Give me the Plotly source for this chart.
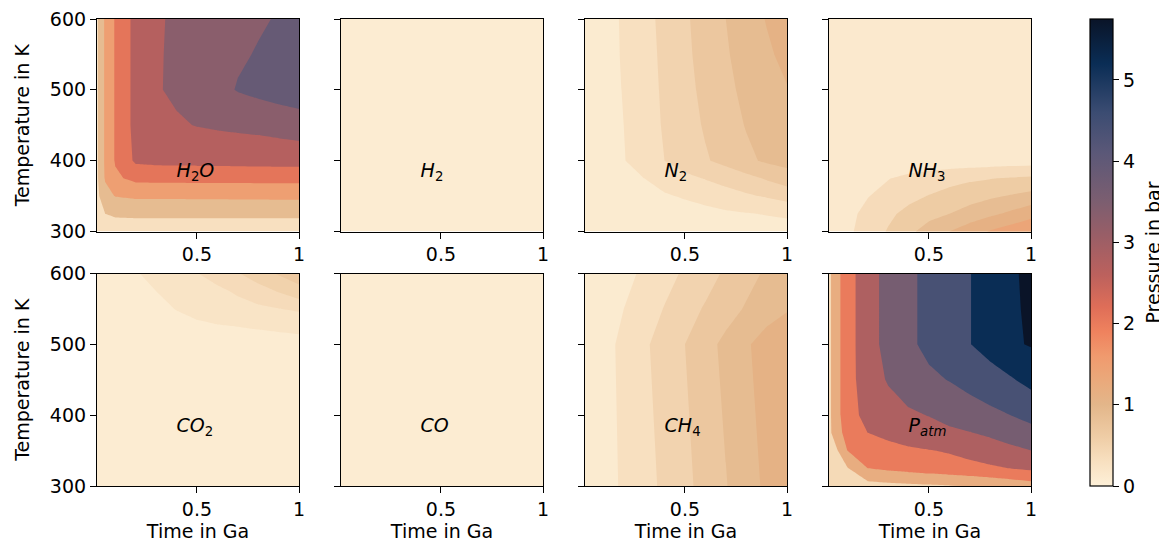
import plotly.graph_objects as go

# ---------------- data (pressure in bar) ----------------
t_Ga = [0.01, 0.05, 0.1, 0.2, 0.3, 0.4, 0.5, 0.6, 0.7, 0.8, 0.9, 1.0]
T_full = [300, 325, 350, 375, 400, 450, 500, 550, 600]
T_nh3 = [300, 325, 350, 375, 400, 500, 600]
T_co2 = [300, 450, 500, 525, 550, 575, 600]
T_ch4 = [300, 500, 550, 600]
t_flat = [0.01, 0.5, 1.0]
T_flat = [300, 450, 600]

p_H2O = [
    [0.15, 0.25, 0.30, 0.30, 0.30, 0.30, 0.30, 0.30, 0.30, 0.30, 0.30, 0.30],
    [0.35, 0.60, 0.68, 0.70, 0.70, 0.70, 0.70, 0.70, 0.70, 0.70, 0.70, 0.70],
    [0.45, 1.00, 1.22, 1.30, 1.30, 1.30, 1.31, 1.31, 1.32, 1.32, 1.33, 1.33],
    [0.50, 1.25, 1.70, 1.95, 1.96, 1.96, 1.97, 1.97, 1.97, 1.98, 1.98, 1.98],
    [0.50, 1.30, 1.85, 2.50, 2.55, 2.57, 2.58, 2.59, 2.60, 2.61, 2.62, 2.62],
    [0.50, 1.30, 1.86, 2.59, 2.80, 2.93, 3.02, 3.07, 3.11, 3.15, 3.22, 3.30],
    [0.50, 1.30, 1.86, 2.59, 2.95, 3.10, 3.26, 3.45, 3.63, 3.75, 3.86, 3.95],
    [0.50, 1.30, 1.86, 2.59, 2.93, 3.12, 3.28, 3.42, 3.54, 3.63, 3.72, 3.80],
    [0.50, 1.30, 1.86, 2.59, 2.92, 3.10, 3.24, 3.36, 3.45, 3.55, 3.63, 3.70],
]

p_H2 = [
    [0.00, 0.01, 0.01],
    [0.01, 0.02, 0.02],
    [0.01, 0.02, 0.03],
]

p_N2 = [
    [0.01, 0.02, 0.02, 0.03, 0.04, 0.05, 0.06, 0.07, 0.08, 0.09, 0.11, 0.12],
    [0.02, 0.03, 0.04, 0.06, 0.08, 0.10, 0.12, 0.14, 0.17, 0.19, 0.21, 0.23],
    [0.02, 0.04, 0.06, 0.10, 0.14, 0.18, 0.22, 0.27, 0.32, 0.37, 0.42, 0.48],
    [0.03, 0.05, 0.08, 0.14, 0.20, 0.28, 0.35, 0.41, 0.47, 0.54, 0.62, 0.70],
    [0.03, 0.06, 0.10, 0.19, 0.30, 0.40, 0.50, 0.58, 0.66, 0.76, 0.83, 0.87],
    [0.03, 0.07, 0.11, 0.20, 0.31, 0.42, 0.52, 0.62, 0.72, 0.81, 0.88, 0.93],
    [0.03, 0.07, 0.12, 0.21, 0.32, 0.43, 0.54, 0.65, 0.75, 0.85, 0.93, 0.99],
    [0.03, 0.07, 0.12, 0.22, 0.33, 0.44, 0.56, 0.67, 0.78, 0.88, 0.97, 1.05],
    [0.03, 0.07, 0.12, 0.225, 0.34, 0.45, 0.57, 0.69, 0.80, 0.91, 1.01, 1.12],
]

p_NH3 = [
    [0.05, 0.12, 0.20, 0.36, 0.52, 0.69, 0.86, 1.00, 1.14, 1.27, 1.37, 1.46],
    [0.04, 0.10, 0.18, 0.32, 0.45, 0.57, 0.67, 0.75, 0.85, 0.95, 1.05, 1.17],
    [0.03, 0.08, 0.14, 0.24, 0.33, 0.43, 0.51, 0.58, 0.65, 0.71, 0.77, 0.83],
    [0.02, 0.05, 0.09, 0.16, 0.24, 0.31, 0.37, 0.42, 0.46, 0.49, 0.52, 0.54],
    [0.01, 0.02, 0.03, 0.05, 0.07, 0.08, 0.09, 0.10, 0.11, 0.12, 0.13, 0.14],
    [0.00, 0.01, 0.01, 0.02, 0.03, 0.03, 0.04, 0.04, 0.05, 0.05, 0.06, 0.06],
    [0.00, 0.00, 0.01, 0.01, 0.01, 0.02, 0.02, 0.02, 0.02, 0.03, 0.03, 0.03],
]

p_CO2 = [
    [0.00, 0.00, 0.01, 0.01, 0.01, 0.01, 0.02, 0.02, 0.02, 0.02, 0.02, 0.03],
    [0.01, 0.01, 0.02, 0.02, 0.03, 0.03, 0.04, 0.04, 0.05, 0.05, 0.05, 0.06],
    [0.02, 0.02, 0.03, 0.04, 0.05, 0.06, 0.07, 0.08, 0.09, 0.10, 0.105, 0.11],
    [0.02, 0.03, 0.04, 0.06, 0.08, 0.10, 0.125, 0.14, 0.15, 0.16, 0.17, 0.18],
    [0.03, 0.04, 0.05, 0.08, 0.11, 0.155, 0.19, 0.22, 0.25, 0.27, 0.295, 0.323],
    [0.03, 0.05, 0.07, 0.11, 0.15, 0.19, 0.23, 0.27, 0.32, 0.39, 0.46, 0.55],
    [0.04, 0.06, 0.09, 0.14, 0.19, 0.24, 0.295, 0.36, 0.44, 0.53, 0.615, 0.68],
]

p_CO = [
    [0.00, 0.01, 0.01],
    [0.01, 0.01, 0.02],
    [0.01, 0.02, 0.02],
]

p_CH4 = [
    [0.02, 0.06, 0.12, 0.23, 0.33, 0.44, 0.55, 0.67, 0.79, 0.91, 1.04, 1.15],
    [0.02, 0.07, 0.13, 0.25, 0.37, 0.48, 0.60, 0.73, 0.85, 0.97, 1.10, 1.20],
    [0.02, 0.06, 0.11, 0.20, 0.30, 0.41, 0.52, 0.62, 0.72, 0.82, 0.90, 0.98],
    [0.02, 0.04, 0.08, 0.15, 0.23, 0.33, 0.43, 0.52, 0.63, 0.73, 0.83, 0.92],
]

p_atm = [
    [0.20, 0.30, 0.40, 0.50, 0.58, 0.64, 0.70, 0.76, 0.82, 0.95, 1.10, 1.25],
    [0.30, 0.50, 0.75, 1.60, 1.75, 1.87, 1.98, 2.08, 2.20, 2.30, 2.41, 2.55],
    [0.45, 0.75, 1.60, 2.00, 2.15, 2.28, 2.37, 2.47, 2.62, 2.80, 3.00, 3.20],
    [0.58, 1.35, 1.85, 2.40, 2.60, 2.80, 2.95, 3.05, 3.17, 3.35, 3.58, 3.83],
    [0.60, 1.40, 2.00, 2.70, 2.95, 3.10, 3.22, 3.45, 3.65, 3.82, 4.00, 4.16],
    [0.60, 1.40, 2.03, 2.90, 3.25, 3.55, 3.85, 4.03, 4.25, 4.48, 4.72, 5.05],
    [0.60, 1.40, 2.03, 2.95, 3.40, 3.85, 4.20, 4.50, 4.78, 5.10, 5.50, 5.65],
    [0.60, 1.40, 2.03, 2.95, 3.40, 3.85, 4.20, 4.50, 4.78, 5.10, 5.50, 5.70],
    [0.60, 1.40, 2.03, 2.95, 3.40, 3.85, 4.20, 4.50, 4.78, 5.10, 5.50, 5.75],
]

species_labels = [
    "<i>H</i><sub>2</sub><i>O</i>", "<i>H</i><sub>2</sub>", "<i>N</i><sub>2</sub>",
    "<i>NH</i><sub>3</sub>", "<i>CO</i><sub>2</sub>", "<i>CO</i>",
    "<i>CH</i><sub>4</sub>", "<i>P</i><sub><i>atm</i></sub>",
]
label_t = [0.4]
label_T = [383]

x_ticks = [0.5, 1.0]
x_ticktext = ["0.5", "1"]
y_ticks = [300, 400, 500, 600]
cbar_ticks = [0, 1, 2, 3, 4, 5]
p_max = 5.75

# ---------------- colour map ----------------
cmap_stops = [
    (0.0, "#fdf0d8"), (0.3, "#f8e0c0"), (0.6, "#efcda6"), (1.0, "#e3b68a"),
    (1.3, "#eaa97b"), (1.6, "#f09a6e"), (1.9, "#ef825e"), (2.2, "#df6e58"),
    (2.6, "#bc615d"), (3.1, "#985e67"), (3.5, "#7c5e70"), (4.1, "#5b5878"),
    (4.6, "#3b4c72"), (5.2, "#0a2d55"), (5.75, "#0a1428"),
]


def hex2rgb(h):
    h = h.lstrip("#")
    return tuple(int(h[i:i + 2], 16) for i in (0, 2, 4))


def cmap(v):
    v = max(0.0, min(p_max, v))
    for (v0, c0), (v1, c1) in zip(cmap_stops[:-1], cmap_stops[1:]):
        if v <= v1:
            f = 0.0 if v1 == v0 else (v - v0) / (v1 - v0)
            a, b = hex2rgb(c0), hex2rgb(c1)
            return "rgb(%d,%d,%d)" % tuple(round(a[i] + f * (b[i] - a[i])) for i in range(3))
    return "rgb(%d,%d,%d)" % hex2rgb(cmap_stops[-1][1])


global_cs = [[v / p_max, c] for v, c in cmap_stops]


def band_colorscale(start, end, size):
    nc = int(round((end - start) / size)) + 1
    return [[k / nc, cmap(start - size / 2 + k * size)] for k in range(nc + 1)]


# panel specs: (t grid, T grid, values, level start, level end, level step)
panels = [
    (t_Ga, T_full, p_H2O, 0.6, 3.6, 0.6),
    (t_flat, T_flat, p_H2, 0.15, 0.6, 0.15),
    (t_Ga, T_full, p_N2, 0.2, 1.0, 0.2),
    (t_Ga, T_nh3, p_NH3, 0.25, 1.25, 0.25),
    (t_Ga, T_co2, p_CO2, 0.15, 0.6, 0.15),
    (t_flat, T_flat, p_CO, 0.15, 0.6, 0.15),
    (t_Ga, T_ch4, p_CH4, 0.2, 1.0, 0.2),
    (t_Ga, T_full, p_atm, 0.8, 5.6, 0.8),
]

# ---------------- layout geometry ----------------
# The page body has an 8 px margin, so the figure is 8 px smaller and all
# page pixel positions are shifted by that offset.
OFF = 8
W, H = 1167 - OFF, 548 - OFF
col_px = [(97, 299), (341, 543), (585, 787), (829, 1031)]
row_px = [(19, 231.5), (273.5, 486)]
FONT = "DejaVu Sans"
FS = 19
TXT = dict(family=FONT, size=FS, color="black")


def fx(px):
    return (px - OFF) / W


def fy(py):
    return 1 - (py - OFF) / H


fig = go.Figure()
layout = dict(
    width=W, height=H, margin=dict(l=0, r=0, t=0, b=0, autoexpand=False),
    paper_bgcolor="white", plot_bgcolor="white", showlegend=False,
    font=TXT,
)

for i, (tx, Ty, z, s0, s1, ds) in enumerate(panels):
    r, c = divmod(i, 4)
    n = i + 1
    xa = "x" if n == 1 else "x%d" % n
    ya = "y" if n == 1 else "y%d" % n
    fig.add_trace(go.Contour(
        x=tx, y=Ty, z=z, xaxis=xa, yaxis=ya,
        autocontour=False,
        contours=dict(start=s0, end=s1, size=ds, coloring="fill", showlines=False),
        line=dict(width=0, smoothing=0),
        colorscale=band_colorscale(s0, s1, ds),
        showscale=False, hoverinfo="skip",
    ))
    fig.add_trace(go.Scatter(
        x=label_t, y=label_T, xaxis=xa, yaxis=ya, mode="text",
        text=[species_labels[i]], textposition="middle right",
        textfont=dict(family=FONT, size=FS, color="black"),
        hoverinfo="skip", cliponaxis=False,
    ))
    x0, x1 = col_px[c]
    y0, y1 = row_px[r]
    common = dict(showline=True, mirror=True, linecolor="black", linewidth=1.2,
                  ticks="outside", ticklen=6, tickwidth=1.2, tickcolor="black",
                  showgrid=False, zeroline=False, ticklabeloverflow="allow",
                  tickfont=dict(family=FONT, size=FS, color="black"))
    xdef = dict(domain=[fx(x0), fx(x1)], range=[0.01, 1.0], anchor=ya,
                tickvals=x_ticks, ticktext=x_ticktext, **common)
    if r == 1:
        xdef["title"] = dict(text="Time in Ga", standoff=4,
                             font=dict(family=FONT, size=FS, color="black"))
    ydef = dict(domain=[fy(y1), fy(y0)], range=[300, 600], anchor=xa,
                tickvals=y_ticks, showticklabels=(c == 0), **common)
    if c == 0:
        ydef["title"] = dict(text="Temperature in K", standoff=15,
                             font=dict(family=FONT, size=FS, color="black"))
    layout["xaxis" if n == 1 else "xaxis%d" % n] = xdef
    layout["yaxis" if n == 1 else "yaxis%d" % n] = ydef

# colour bar carrier
fig.add_trace(go.Scatter(
    x=[0.5, 0.5], y=[450, 450], xaxis="x", yaxis="y", mode="markers",
    marker=dict(size=1, opacity=0, color=[0, p_max], colorscale=global_cs,
                cmin=0, cmax=p_max, showscale=True,
                colorbar=dict(
                    x=fx(1090), xanchor="left", y=fy((19 + 486) / 2), yanchor="middle",
                    thickness=23, thicknessmode="pixels", len=467, lenmode="pixels",
                    xpad=0, ypad=0, outlinewidth=1.2, outlinecolor="black",
                    ticks="outside", ticklen=6, tickwidth=1.2, tickcolor="black",
                    tickvals=cbar_ticks,
                    tickfont=dict(family=FONT, size=FS, color="black"))),
    hoverinfo="skip",
))

layout["annotations"] = [dict(
    text="Pressure in bar", x=fx(1153), y=fy((19 + 486) / 2),
    xref="paper", yref="paper", xanchor="center", yanchor="middle",
    textangle=-90, showarrow=False,
    font=dict(family=FONT, size=FS, color="black"),
)]

fig.update_layout(**layout)
fig.write_html("out.html")
